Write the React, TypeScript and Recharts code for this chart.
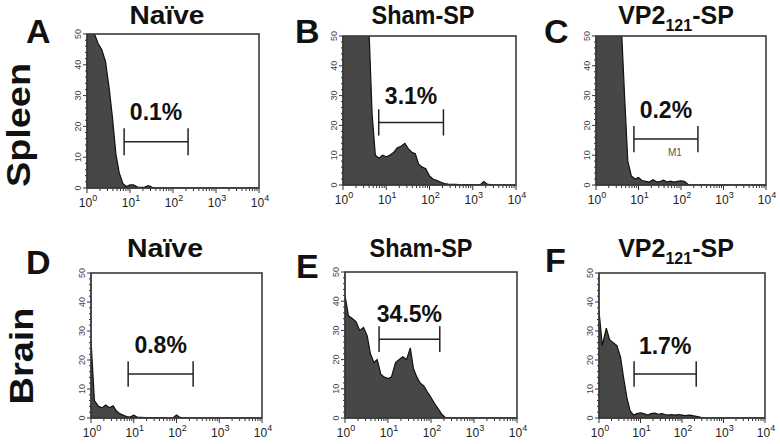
import React from 'react';
import { AreaChart, Area, XAxis, YAxis, ReferenceLine, ReferenceDot } from 'recharts';

// fluorescence channels (log scale, E12 steps)
const CHANNELS = [
  1, 1.2, 1.5, 1.8, 2.2, 2.7, 3.3, 3.9, 4.7, 5.6, 6.8, 8.2,
  10, 12, 15, 18, 22, 27, 33, 39, 47, 56, 68, 82,
  100, 120, 150, 180, 220, 270, 330, 390, 470, 560, 680, 820,
  1000, 1200, 1500, 1800, 2200, 2700, 3300, 3900, 4700, 5600, 6800, 8200,
  10000,
];

// event counts per channel
const SPLEEN_NAIVE = [
  55, 52, 50, 47, 45, 41, 32, 23, 11, 5, 1.5, 0.5,
  1, 1, 0.3, 0.2, 0.3, 0.8, 0.2, 0, 0, 0, 0, 0,
  0, 0, 0, 0, 0, 0, 0, 0, 0, 0, 0, 0,
  0, 0, 0, 0, 0, 0, 0, 0, 0, 0, 0, 0,
  0,
];
const SPLEEN_SHAM = [
  60, 60, 60, 60, 60, 60, 60, 56, 24, 10, 9, 10,
  9.5, 10, 11, 12.5, 13, 14, 12, 11, 10.5, 7, 6, 5.5,
  3, 2, 1.5, 1, 0.5, 0.3, 0.2, 0.2, 0.1, 0.1, 0.1, 0.1,
  0.1, 0.1, 0.1, 1.2, 0.2, 0.1, 0, 0, 0, 0, 0, 0,
  0,
];
const SPLEEN_VP2 = [
  60, 60, 60, 60, 60, 60, 60, 55, 30, 8, 3, 2,
  2.5, 1.5, 1.2, 1, 1.8, 1, 1.2, 1.6, 1, 1.3, 1, 1.2,
  1.4, 1.2, 0.1, 0, 0, 0, 0, 0, 0, 0, 0, 0,
  0, 0, 0, 0, 0, 0, 0, 0, 0, 0, 0, 0,
  0,
];
const BRAIN_NAIVE = [
  27, 6, 4, 3.5, 4.5, 3.5, 4.2, 2.5, 1.5, 1, 0.5, 0.3,
  1, 0.3, 0.2, 0.1, 0.1, 0.1, 0.1, 0.1, 0.1, 0, 0, 0,
  1, 0.2, 0, 0, 0, 0, 0, 0, 0, 0, 0, 0,
  0, 0, 0, 0, 0, 0, 0, 0, 0, 0, 0, 0,
  0,
];
const BRAIN_SHAM = [
  42, 35, 34, 33, 30, 31, 28, 22, 19, 20, 15, 14,
  13.5, 14, 19, 20, 21, 20, 24, 17, 14, 12, 11, 9,
  7, 5, 3, 1.2, 0, 0, 0, 0, 0, 0, 0, 0,
  0, 0, 0, 0, 0, 0, 0, 0, 0, 0, 0, 0,
  0,
];
const BRAIN_VP2 = [
  37, 25, 31, 27, 26, 25, 21, 14, 7, 2.5, 1, 1.5,
  1.8, 1.5, 1, 1.5, 1.7, 1.3, 1.5, 1.2, 1, 1.2, 1, 1.2,
  1, 0.8, 1, 0.8, 0.6, 0.3, 0, 0, 0, 0, 0, 0,
  0, 0, 0, 0, 0, 0, 0, 0, 0, 0, 0, 0,
  0,
];

// M1 gate per panel (A..F)
const GATE_LOW = [7.3, 6.7, 7.8, 7.4, 6.2, 7];
const GATE_HIGH = [224, 210, 250, 245, 160, 220];
const GATE_LEVEL = [15, 21, 15.4, 15.2, 27, 15.2];
const GATE_PCT = ['0.1%', '3.1%', '0.2%', '0.8%', '34.5%', '1.7%'];

const X_MAJOR = [1, 10, 100, 1000, 10000];
const X_TICKS = [
  1, 2, 3, 4, 5, 6, 7, 8, 9,
  10, 20, 30, 40, 50, 60, 70, 80, 90,
  100, 200, 300, 400, 500, 600, 700, 800, 900,
  1000, 2000, 3000, 4000, 5000, 6000, 7000, 8000, 9000,
  10000,
];
const Y_TICKS = [0, 2, 4, 6, 8, 10, 12, 14, 16, 18, 20, 22, 24, 26, 28, 30, 32, 34, 36, 38, 40, 42, 44, 46, 48, 50];

const FONT = '"Liberation Sans", Arial, Helvetica, sans-serif';

// plot rectangles in page pixels
const BOXES = [
  { x0: 87, x1: 259, y0: 34, y1: 188 },
  { x0: 343, x1: 516, y0: 36, y1: 185 },
  { x0: 596, x1: 766, y0: 36, y1: 185 },
  { x0: 91, x1: 262, y0: 273, y1: 418 },
  { x0: 345, x1: 517, y0: 272, y1: 418 },
  { x0: 599, x1: 765, y0: 273, y1: 418 },
];
const SERIES = [SPLEEN_NAIVE, SPLEEN_SHAM, SPLEEN_VP2, BRAIN_NAIVE, BRAIN_SHAM, BRAIN_VP2];
const LABEL_OFFSET = [22, 18, 21, 21, 17, 20];

const XTick = (props: any) => {
  const { x, y, payload } = props;
  const v = payload.value;
  const major = X_MAJOR.includes(v);
  return (
    <g>
      <line x1={x} x2={x} y1={y} y2={y + (major ? 5 : 3)} stroke="#333" strokeWidth={1} />
      {major && (
        <text x={x + 1} y={y + 19} textAnchor="middle" fontSize={12} fill="#222" fontFamily={FONT}>
          10<tspan dy={-6} fontSize={9}>{Math.round(Math.log10(v))}</tspan>
        </text>
      )}
    </g>
  );
};

const YTick = (props: any) => {
  const { x, y, payload } = props;
  const major = payload.value % 10 === 0;
  return (
    <g>
      <line x1={x} x2={x - (major ? 4 : 2)} y1={y} y2={y} stroke="#333" strokeWidth={1} />
      {major && (
        <text
          x={x - 9}
          y={y}
          transform={`rotate(-90 ${x - 9} ${y})`}
          textAnchor="middle"
          dominantBaseline="central"
          fontSize={9}
          fill="#444"
          fontFamily={FONT}
        >
          {payload.value}
        </text>
      )}
    </g>
  );
};

function Histogram({ idx }: { idx: number }) {
  const box = BOXES[idx];
  const counts = SERIES[idx];
  const data = CHANNELS.map((x, i) => ({ x, y: counts[i] }));
  const ML = 30, MT = 6, MR = 16, MB = 26;
  const pw = box.x1 - box.x0;
  const ph = box.y1 - box.y0;
  const lo = GATE_LOW[idx], hi = GATE_HIGH[idx], lv = GATE_LEVEL[idx];
  const t = 4.4;
  return (
    <div style={{ position: 'absolute', left: box.x0 - ML, top: box.y0 - MT, width: pw + ML + MR, height: ph + MT + MB }}>
      <AreaChart width={pw + ML + MR} height={ph + MT + MB} data={data} margin={{ top: MT, right: MR, left: 0, bottom: 0 }}>
        <XAxis
          dataKey="x"
          type="number"
          scale="log"
          domain={[1, 10000]}
          ticks={X_TICKS}
          interval={0}
          tick={<XTick />}
          tickSize={0}
          tickMargin={0}
          tickLine={false}
          stroke="#222"
          height={MB}
          allowDataOverflow
        />
        <YAxis
          type="number"
          domain={[0, 50]}
          ticks={Y_TICKS}
          interval={0}
          tick={<YTick />}
          tickSize={0}
          tickMargin={0}
          tickLine={false}
          stroke="#222"
          width={ML}
          allowDataOverflow
        />
        <Area
          type="linear"
          dataKey="y"
          fill="#474747"
          fillOpacity={1}
          stroke="#111"
          strokeWidth={1.2}
          isAnimationActive={false}
        />
        <ReferenceLine
          segment={[{ x: lo, y: lv }, { x: hi, y: lv }]}
          stroke="#222"
          strokeWidth={1.5}
          label={{
            value: GATE_PCT[idx],
            position: 'top',
            offset: LABEL_OFFSET[idx],
            fontSize: 23,
            fontWeight: 'bold',
            fill: '#111',
            fontFamily: FONT,
          }}
        />
        <ReferenceLine segment={[{ x: lo, y: lv - t }, { x: lo, y: lv + t }]} stroke="#222" strokeWidth={1.5} />
        <ReferenceLine segment={[{ x: hi, y: lv - t }, { x: hi, y: lv + t }]} stroke="#222" strokeWidth={1.5} />
        {idx === 2 && (
          <ReferenceDot
            x={72}
            y={11}
            r={0}
            fill="none"
            stroke="none"
            label={{ value: 'M1', position: 'center', fontSize: 10, fill: '#555', fontFamily: FONT }}
          />
        )}
      </AreaChart>
      {/* plot frame */}
      <svg
        width={pw + ML + MR}
        height={ph + MT + MB}
        style={{ position: 'absolute', left: 0, top: 0, pointerEvents: 'none', zIndex: 5 }}
      >
        <rect x={ML} y={MT} width={pw} height={ph} fill="none" stroke="#3a3a3a" strokeWidth={1.6} />
      </svg>
    </div>
  );
}

export default function App() {
  return (
    <div style={{ position: 'absolute', left: 0, top: 0, width: 780, height: 444, background: '#fff', overflow: 'hidden' }}>
      {[0, 1, 2, 3, 4, 5].map((i) => (
        <Histogram key={i} idx={i} />
      ))}
      <svg width={780} height={444} style={{ position: 'absolute', left: 0, top: 0, pointerEvents: 'none' }}>
        <g fontFamily={FONT} fontWeight="bold" fill="#111">
          {/* column titles */}
          <text x={167} y={24} textAnchor="middle" fontSize={25} textLength={75} lengthAdjust="spacingAndGlyphs">Naïve</text>
          <text x={423} y={24} textAnchor="middle" fontSize={25} textLength={103} lengthAdjust="spacingAndGlyphs">Sham-SP</text>
          <text x={676} y={24} textAnchor="middle" fontSize={25}>
            VP2<tspan dy={7} fontSize={16}>121</tspan><tspan dy={-7}>-SP</tspan>
          </text>
          <text x={165} y={257} textAnchor="middle" fontSize={25} textLength={76} lengthAdjust="spacingAndGlyphs">Naïve</text>
          <text x={421} y={257} textAnchor="middle" fontSize={25} textLength={103} lengthAdjust="spacingAndGlyphs">Sham-SP</text>
          <text x={676} y={257} textAnchor="middle" fontSize={25}>
            VP2<tspan dy={7} fontSize={16}>121</tspan><tspan dy={-7}>-SP</tspan>
          </text>
          {/* panel letters */}
          <text x={26} y={43} fontSize={34}>A</text>
          <text x={295} y={43} fontSize={34}>B</text>
          <text x={544} y={43} fontSize={34}>C</text>
          <text x={26} y={274} fontSize={34}>D</text>
          <text x={296} y={278} fontSize={34}>E</text>
          <text x={545} y={272} fontSize={34}>F</text>
          {/* row labels */}
          <text x={30} y={125} transform="rotate(-90 30 125)" textAnchor="middle" fontSize={33} textLength={124} lengthAdjust="spacingAndGlyphs">Spleen</text>
          <text x={33} y={356} transform="rotate(-90 33 356)" textAnchor="middle" fontSize={33} textLength={97} lengthAdjust="spacingAndGlyphs">Brain</text>
        </g>
      </svg>
    </div>
  );
}
